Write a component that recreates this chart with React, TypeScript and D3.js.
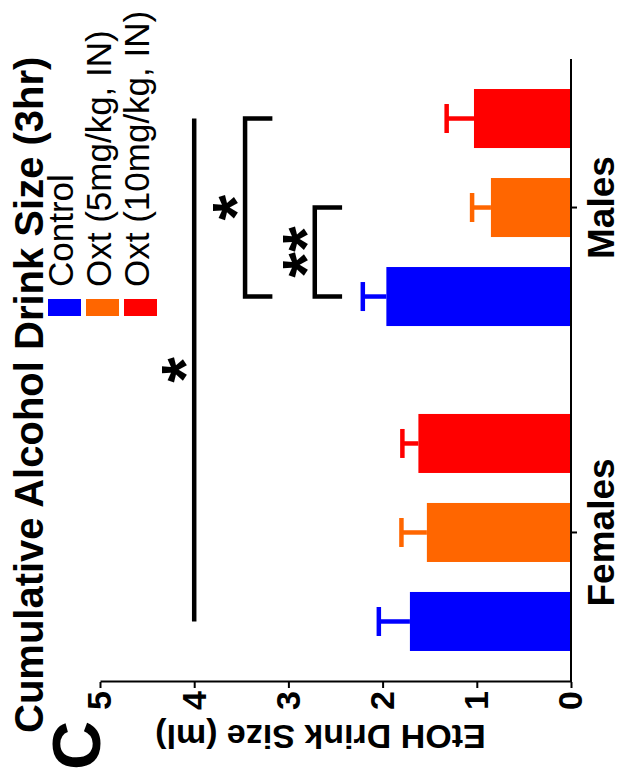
import React, { useRef, useEffect } from 'react';
import * as d3 from 'd3';

const groups = ['Females', 'Males'];
const treatments = ['Control', 'Oxt (5mg/kg, IN)', 'Oxt (10mg/kg, IN)'];
const colors = ['#0000ff', '#ff6600', '#ff0000'];
const femaleMeans = [1.71, 1.53, 1.62];
const femaleSems = [0.33, 0.27, 0.17];
const maleMeans = [1.96, 0.85, 1.03];
const maleSems = [0.25, 0.2, 0.29];
const valueTicks = [0, 1, 2, 3, 4, 5];
// significance lines: start/end bar as [group, treatment index], height in ml
const sigFrom = [['Females', 0], ['Males', 0], ['Males', 0]];
const sigTo = [['Males', 2], ['Males', 2], ['Males', 1]];
const sigLevel = [4.0, 3.46, 2.72];
const sigDrop = [0, 0.29, 0.29];
const sigLabel = ['*', '*', '**'];

const App = () => {
  const svgRef = useRef(null);

  useEffect(() => {
    const svg = d3.select(svgRef.current);
    svg.selectAll('*').remove();

    // the figure is drawn upright in a 778 x 626 frame, then turned 90deg ccw
    const g = svg.append('g').attr('transform', 'translate(0,778) rotate(-90)');
    const font = 'Liberation Sans, Arial, Helvetica, sans-serif';
    g.attr('font-family', font);

    const axisX = 96;
    const base = 571;

    const x0 = d3.scaleBand().domain(groups).range([98, 718]).paddingInner(0.178).paddingOuter(0.043);
    const x1 = d3.scaleBand().domain(d3.range(treatments.length)).range([0, x0.bandwidth()])
      .paddingInner(0.337).paddingOuter(0.169);
    const y = d3.scaleLinear().domain([0, 5]).range([base, 100]);

    const rows = groups.flatMap((grp, gi) => {
      const means = gi === 0 ? femaleMeans : maleMeans;
      const sems = gi === 0 ? femaleSems : maleSems;
      return means.map((m, i) => ({ grp, i, mean: m, sem: sems[i] }));
    });
    const cx = (grp, i) => x0(grp) + x1(i) + x1.bandwidth() / 2;

    // bars
    g.selectAll('.bar')
      .data(rows)
      .enter()
      .append('rect')
      .attr('x', d => x0(d.grp) + x1(d.i))
      .attr('y', d => y(d.mean))
      .attr('width', x1.bandwidth())
      .attr('height', d => base - y(d.mean))
      .attr('fill', d => colors[d.i]);

    // error bars (upper only)
    const eb = g.selectAll('.err').data(rows).enter().append('g')
      .attr('stroke', d => colors[d.i]).attr('stroke-width', 4.5);
    eb.append('line')
      .attr('x1', d => cx(d.grp, d.i)).attr('x2', d => cx(d.grp, d.i))
      .attr('y1', d => y(d.mean)).attr('y2', d => y(d.mean + d.sem));
    eb.append('line')
      .attr('x1', d => cx(d.grp, d.i) - 14.5).attr('x2', d => cx(d.grp, d.i) + 14.5)
      .attr('y1', d => y(d.mean + d.sem)).attr('y2', d => y(d.mean + d.sem));

    // value axis
    const ya = g.append('g')
      .attr('transform', `translate(${axisX},0)`)
      .call(d3.axisLeft(y).tickValues(valueTicks).tickFormat(d3.format('d'))
        .tickSize(6).tickSizeOuter(0).tickPadding(3));
    ya.select('.domain').attr('stroke-width', 2);
    ya.selectAll('.tick line').attr('stroke-width', 2);
    ya.selectAll('.tick text')
      .attr('font-size', 34).attr('font-weight', 'bold').attr('font-family', font).attr('fill', '#000');

    // category axis
    const xa = g.append('g')
      .attr('transform', `translate(0,${base})`)
      .call(d3.axisBottom(x0).tickSize(6).tickSizeOuter(0).tickPadding(11));
    xa.select('.domain').remove();
    xa.selectAll('.tick line').attr('stroke-width', 2);
    xa.selectAll('.tick text')
      .attr('font-size', 37).attr('font-weight', 'bold').attr('font-family', font).attr('fill', '#000');
    g.append('line')
      .attr('x1', axisX).attr('x2', 719).attr('y1', base).attr('y2', base)
      .attr('stroke', '#000').attr('stroke-width', 2);

    // axis title
    g.append('text')
      .attr('transform', `translate(53,${(y(0) + y(5)) / 2 - 15}) rotate(-90)`)
      .attr('text-anchor', 'middle')
      .attr('font-size', 34).attr('font-weight', 'bold')
      .text('EtOH Drink Size (ml)');

    // chart title and panel letter
    g.append('text')
      .attr('x', 45).attr('y', 43)
      .attr('font-size', 40).attr('font-weight', 'bold')
      .text('Cumulative Alcohol Drink Size (3hr)');
    g.append('text')
      .attr('x', 8).attr('y', 100)
      .attr('font-size', 68).attr('font-weight', 'bold')
      .text('C');

    // legend
    const lg = g.selectAll('.legend').data(treatments).enter().append('g')
      .attr('transform', (d, i) => `translate(462,${48 + i * 38})`);
    lg.append('rect').attr('width', 17).attr('height', 33).attr('fill', (d, i) => colors[i]);
    lg.append('text').attr('x', 29).attr('y', 25).attr('font-size', 35).text(d => d);

    // significance
    sigLabel.forEach((lab, k) => {
      const xa1 = cx(sigFrom[k][0], sigFrom[k][1]);
      const xa2 = cx(sigTo[k][0], sigTo[k][1]);
      const yl = y(sigLevel[k]);
      const ye = y(sigLevel[k] - sigDrop[k]);
      g.append('path')
        .attr('d', `M${xa1},${ye}V${yl}H${xa2}V${ye}`)
        .attr('fill', 'none').attr('stroke', '#000').attr('stroke-width', 4.5);
      g.append('text')
        .attr('x', (xa1 + xa2) / 2).attr('y', yl + 14)
        .attr('text-anchor', 'middle')
        .attr('font-size', 66).attr('font-weight', 'bold')
        .text(lab);
    });
  }, []);

  return (
    <svg ref={svgRef} width={626} height={778} style={{ position: 'absolute', left: 0, top: 0, background: '#fff' }}></svg>
  );
};

export default App;
